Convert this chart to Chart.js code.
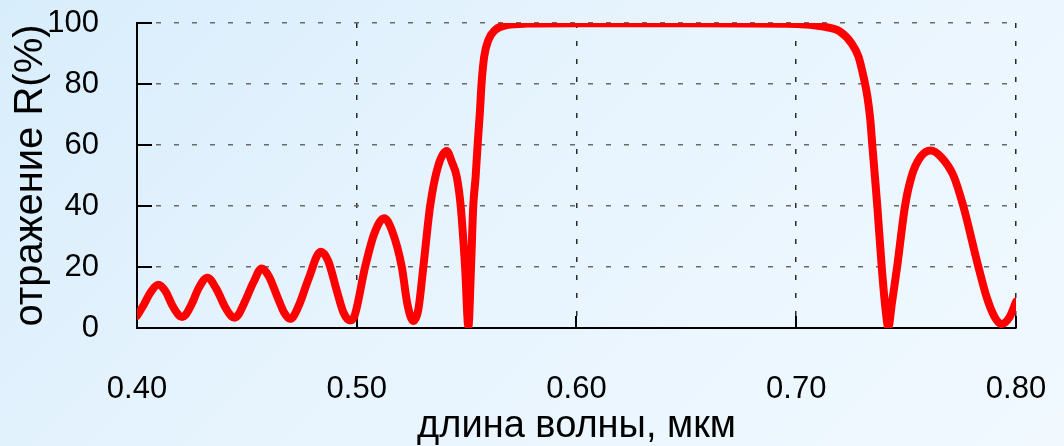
<!DOCTYPE html>
<html>
<head>
<meta charset="utf-8">
<script src="https://cdn.jsdelivr.net/npm/chart.js@4"></script>
<style>
  html, body { margin: 0; padding: 0; }
  body {
    width: 1064px; height: 446px; overflow: hidden;
    background: linear-gradient(135deg, #d8edfb 0%, #e7f4fe 45%, #f1f9ff 100%);
  }
  #wrap { width: 1064px; height: 446px; }
</style>
</head>
<body>
<div id="wrap"><canvas id="spectrum" width="1064" height="446"></canvas></div>
<script>
  // wavelength, um
  const wavelength = [
    0.400, 0.403, 0.406, 0.4097, 0.413, 0.416, 0.419, 0.4205, 0.422,
    0.425, 0.428, 0.432, 0.436, 0.440, 0.443, 0.4445, 0.446,
    0.449, 0.453, 0.4567, 0.460, 0.464, 0.467, 0.4696, 0.471,
    0.474, 0.478, 0.4836, 0.487, 0.491, 0.494, 0.4969, 0.499,
    0.5038, 0.508, 0.5125, 0.516, 0.5205, 0.523, 0.5257, 0.528,
    0.5303, 0.5334, 0.537, 0.5409, 0.5435, 0.5455, 0.5473, 0.5493, 0.5508,
    0.5520, 0.5530, 0.5541, 0.5550, 0.5561, 0.5568, 0.5580, 0.5599, 0.5629,
    0.5682, 0.5773, 0.600, 0.650, 0.700, 0.7123, 0.7199, 0.7252, 0.7283,
    0.7306, 0.7324, 0.7337, 0.7346, 0.7358, 0.7369, 0.7389, 0.7405, 0.7419,
    0.7435, 0.7459, 0.7495, 0.7526, 0.7565, 0.7612, 0.766, 0.7715,
    0.776, 0.7829, 0.7867, 0.790, 0.7932, 0.797, 0.800
  ];
  // reflectance R, %
  const reflectance = [
    4, 7.5, 11.5, 14.2, 12, 7.5, 4.2, 3.6, 4.2,
    8, 13, 16.5, 13, 7, 3.8, 3.4, 4.2,
    8.5, 15, 19.5, 17, 10, 5, 3, 3.6,
    8, 16, 25, 22, 12, 5, 2.5, 4,
    20, 31, 36, 32, 20, 8, 2.3, 6,
    20, 40, 53, 58, 54, 49.6, 40, 20, 0.5,
    20, 39.8, 49.6, 60, 71.5, 80.2, 89, 94.4, 97.7,
    99.3, 99.8, 99.9, 99.9, 99.7, 98.8, 97.2, 93.3, 89,
    82.4, 75.8, 68.2, 60, 49.6, 39.8, 20, 7, 0.3,
    8, 20, 40, 50, 56, 58.2, 56, 50,
    40, 20, 10, 4, 1.3, 3.5, 8.6
  ];
  const xTicks = [0.4, 0.5, 0.6, 0.7, 0.8];
  const yTicks = [0, 20, 40, 60, 80, 100];

  const FONT = "'Liberation Sans', Arial, sans-serif";

  // short solid tick marks pointing into the plot
  const innerTicks = {
    id: 'innerTicks',
    beforeDatasetsDraw(chart) {
      const { ctx, chartArea, scales } = chart;
      ctx.save();
      ctx.strokeStyle = '#000';
      ctx.lineWidth = 2;
      ctx.beginPath();
      yTicks.forEach(v => {
        const y = Math.round(scales.y.getPixelForValue(v));
        ctx.moveTo(chartArea.left, y);
        ctx.lineTo(chartArea.left + 15, y);
      });
      xTicks.forEach(v => {
        const x = Math.round(scales.x.getPixelForValue(v));
        ctx.moveTo(x, chartArea.bottom);
        ctx.lineTo(x, chartArea.bottom - 12);
      });
      ctx.stroke();
      ctx.restore();
    }
  };

  const points = wavelength.map((w, i) => ({ x: w, y: reflectance[i] }));

  new Chart(document.getElementById('spectrum'), {
    type: 'line',
    data: {
      datasets: [{
        data: points,
        borderColor: '#ff0000',
        borderWidth: 8,
        pointRadius: 0,
        cubicInterpolationMode: 'monotone',
        borderJoinStyle: 'round',
        borderCapStyle: 'round',
        fill: false
      }]
    },
    options: {
      responsive: false,
      animation: false,
      layout: { autoPadding: false, padding: { top: 23, right: 48, left: 0, bottom: 0 } },
      plugins: { legend: { display: false }, tooltip: { enabled: false } },
      scales: {
        x: {
          type: 'linear',
          min: 0.4,
          max: 0.8,
          afterBuildTicks: scale => { scale.ticks = xTicks.map(v => ({ value: v })); },
          afterFit: scale => { scale.height = 118; },
          border: { display: true, color: '#000', width: 2, dash: [5, 13] },
          grid: { color: '#2a2a2a', lineWidth: 1.5, drawTicks: true, tickLength: 40, tickColor: 'transparent' },
          ticks: {
            padding: 3,
            color: '#000',
            font: { family: FONT, size: 31 },
            callback: v => Number(v).toFixed(2)
          },
          title: {
            display: true,
            text: 'длина волны, мкм',
            color: '#000',
            font: { family: FONT, size: 38, lineHeight: 1.0 },
            padding: { top: 0, bottom: 0 }
          }
        },
        y: {
          min: 0,
          max: 100,
          afterBuildTicks: scale => { scale.ticks = yTicks.map(v => ({ value: v })); },
          afterFit: scale => { scale.width = 137; },
          border: { display: true, color: '#000', width: 2, dash: [5, 13] },
          grid: { color: '#6a6a6a', lineWidth: 1.5, drawTicks: true, tickLength: 35, tickColor: 'transparent' },
          ticks: {
            padding: 3,
            color: '#000',
            font: { family: FONT, size: 31 }
          },
          title: {
            display: true,
            text: 'отражение R(%)',
            color: '#000',
            font: { family: FONT, size: 40 },
            padding: { top: 7, bottom: 0 }
          }
        }
      }
    },
    plugins: [innerTicks]
  });
</script>
</body>
</html>
